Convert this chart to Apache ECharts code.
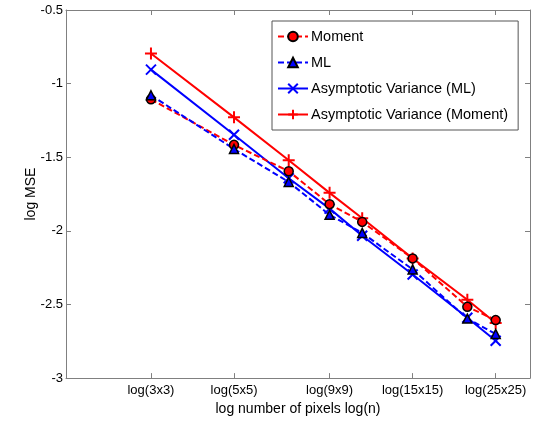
<!DOCTYPE html>
<html>
<head>
<meta charset="utf-8">
<script src="https://cdn.jsdelivr.net/npm/echarts@6/dist/echarts.min.js"></script>
<style>html,body{margin:0;padding:0;background:#fff;}#c{width:534px;height:421px;}</style>
</head>
<body>
<div id="c"></div>
<script>
// window sizes (pixels per side) of the simulated images
const sizes = [3, 5, 7, 9, 11, 15, 21, 25];
// tick sizes and labels
const tickSizes = [3, 5, 9, 15, 25];
const tickLabels = ['log(3x3)', 'log(5x5)', 'log(9x9)', 'log(15x15)', 'log(25x25)'];
const yTicks = [-3, -2.5, -2, -1.5, -1, -0.5];

// log MSE values
const moment   = [-1.107, -1.416, -1.595, -1.819, -1.939, -2.187, -2.516, -2.606];
const ml       = [-1.079, -1.444, -1.668, -1.891, -2.014, -2.262, -2.596, -2.700];
const asymML   = [-0.905, -1.347, -1.643, -1.849, -2.033, -2.296, -2.590, -2.746];
const asymMom  = [-0.795, -1.229, -1.520, -1.742, -1.914, -2.187, -2.468, -2.626];

const xs = sizes.map(s => Math.log(s * s));
const tickX = tickSizes.map(s => Math.log(s * s));
const pair = arr => arr.map((v, i) => [xs[i], v]);

const labelOf = {};
tickX.forEach((v, i) => { labelOf[v.toFixed(6)] = tickLabels[i]; });

const axisGrey = '#808080';
const FONT = 'Liberation Sans, Arial, sans-serif';

const xPath = 'path://M0,0L10,10M10,0L0,10';
const plusPath = 'path://M5,0L5,10M0,5L10,5';

const chart = echarts.init(document.getElementById('c'), null, {renderer: 'canvas'});
chart.setOption({
  animation: false,
  backgroundColor: '#fff',
  textStyle: {fontFamily: FONT},
  grid: {left: 66, right: 4, top: 10, bottom: 42, containLabel: false},
  legend: {
    orient: 'vertical',
    left: 272, top: 21,
    padding: [8, 10, 8, 5],
    backgroundColor: '#fff',
    borderColor: '#555',
    borderWidth: 1,
    itemWidth: 30, itemHeight: 12,
    itemGap: 11,
    textStyle: {fontFamily: FONT, fontSize: 14.5, color: '#000', padding: [0, 0, 0, -2]},
    data: ['Moment', 'ML', 'Asymptotic Variance (ML)', 'Asymptotic Variance (Moment)']
  },
  xAxis: [{
    type: 'value', min: 1.152, max: 6.86, position: 'bottom',
    name: 'log number of pixels log(n)', nameLocation: 'middle', nameGap: 18,
    nameTextStyle: {fontFamily: FONT, fontSize: 14, color: '#000'},
    axisLine: {show: true, lineStyle: {color: axisGrey, width: 1}},
    axisTick: {show: true, inside: true, length: 5, customValues: tickX, lineStyle: {color: axisGrey}},
    axisLabel: {show: true, customValues: tickX, margin: 6, fontSize: 13, color: '#000', fontFamily: FONT,
      formatter: v => labelOf[Number(v).toFixed(6)] || ''},
    splitLine: {show: false}
  }, {
    type: 'value', min: 1.152, max: 6.86, position: 'top',
    axisLine: {show: true, onZero: false, lineStyle: {color: axisGrey, width: 1}},
    axisTick: {show: true, inside: true, length: 5, customValues: tickX, lineStyle: {color: axisGrey}},
    axisLabel: {show: false},
    splitLine: {show: false}
  }],
  yAxis: [{
    type: 'value', min: -3, max: -0.5, interval: 0.5, position: 'left',
    name: 'log MSE', nameLocation: 'middle', nameGap: 28, nameRotate: 90,
    nameMoveOverlap: false,
    nameTextStyle: {fontFamily: FONT, fontSize: 14, color: '#000'},
    axisLine: {show: true, onZero: false, lineStyle: {color: axisGrey, width: 1}},
    axisTick: {show: true, inside: true, length: 5, lineStyle: {color: axisGrey}},
    axisLabel: {show: true, margin: 3, fontSize: 13, color: '#000', fontFamily: FONT,
      customValues: yTicks,
      formatter: v => String(Math.round(v * 10) / 10)},
    splitLine: {show: false}
  }, {
    type: 'value', min: -3, max: -0.5, interval: 0.5, position: 'right',
    axisLine: {show: true, onZero: false, lineStyle: {color: axisGrey, width: 1}},
    axisTick: {show: true, inside: true, length: 5, lineStyle: {color: axisGrey}},
    axisLabel: {show: false},
    splitLine: {show: false}
  }],
  series: [
    {
      name: 'Moment', type: 'line', data: pair(moment),
      lineStyle: {color: '#ff0000', width: 2, type: [6, 3]},
      symbol: 'circle', symbolSize: 9,
      itemStyle: {color: '#ff0000', borderColor: '#000', borderWidth: 1.5},
      z: 3
    },
    {
      name: 'ML', type: 'line', data: pair(ml),
      lineStyle: {color: '#0000ff', width: 2, type: [6, 3]},
      symbol: 'triangle', symbolSize: 9,
      itemStyle: {color: '#0000ff', borderColor: '#000', borderWidth: 1.5},
      z: 3
    },
    {
      name: 'Asymptotic Variance (ML)', type: 'line', data: pair(asymML),
      lineStyle: {color: '#0000ff', width: 2},
      symbol: xPath, symbolSize: 10,
      itemStyle: {color: '#0000ff', borderColor: '#0000ff', borderWidth: 2},
      z: 2
    },
    {
      name: 'Asymptotic Variance (Moment)', type: 'line', data: pair(asymMom),
      lineStyle: {color: '#ff0000', width: 2},
      symbol: plusPath, symbolSize: 12,
      itemStyle: {color: '#ff0000', borderColor: '#ff0000', borderWidth: 2},
      z: 2
    }
  ]
});
</script>
</body>
</html>
